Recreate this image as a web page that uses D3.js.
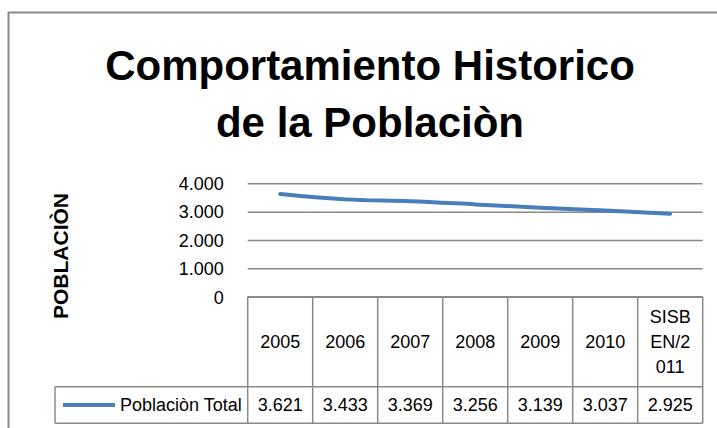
<!DOCTYPE html>
<html>
<head>
<meta charset="utf-8">
<script src="https://cdn.jsdelivr.net/npm/d3@7"></script>
<style>
  body { margin: 0; background: #fff; }
  text { font-family: "Liberation Sans", Arial, sans-serif; fill: #000; }
</style>
</head>
<body>
<script>
// data
var categories = ["2005", "2006", "2007", "2008", "2009", "2010", "SISBEN/2011"];
var catLines = [["2005"], ["2006"], ["2007"], ["2008"], ["2009"], ["2010"], ["SISB", "EN/2", "011"]];
var poblacion = [3621, 3433, 3369, 3256, 3139, 3037, 2925];
var yTicks = [0, 1000, 2000, 3000, 4000];
var seriesName = "Poblaciòn Total";

var w = 717, h = 428;
var plotLeft = 247.7, plotRight = 702.7, plotTop = 183.3, plotBottom = 296.7;
var headBottom = 386.7, legendBottom = 423.3, legendLeft = 55;
var gray = "#898989";
var fs = "18px";

var locale = d3.formatLocale({decimal: ",", thousands: ".", grouping: [3], currency: ["$", ""]});
var fmt = locale.format(",");

var svg = d3.select("body")
    .append("svg")
    .attr("width", w)
    .attr("height", h);

// chart border (runs off the page to the right / bottom)
svg.append("rect")
    .attr("x", 8.5)
    .attr("y", 12.5)
    .attr("width", 720)
    .attr("height", 430)
    .style("fill", "#fff")
    .style("stroke", gray)
    .style("stroke-width", 2);

// title
var title = svg.append("text")
    .attr("text-anchor", "middle")
    .style("font-weight", "bold")
    .style("font-size", "42px");
title.append("tspan").attr("x", 370).attr("y", 80).text("Comportamiento Historico");
title.append("tspan").attr("x", 370).attr("y", 137).text("de la Poblaciòn");

var x = d3.scaleBand()
    .domain(categories)
    .range([plotLeft, plotRight])
    .padding(0);

var y = d3.scaleLinear()
    .domain([0, 4000])
    .range([plotBottom, plotTop]);

// gridlines + tick labels
var yAxis = d3.axisLeft(y)
    .tickValues(yTicks)
    .tickSize(-(plotRight - plotLeft))
    .tickPadding(24)
    .tickFormat(fmt);

var axis = svg.append("g")
    .attr("transform", "translate(" + plotLeft + ",0)")
    .call(yAxis);
axis.select(".domain").remove();
axis.selectAll(".tick line")
    .style("stroke", gray)
    .style("stroke-width", 1.5);
axis.selectAll(".tick text")
    .attr("font-family", null)
    .attr("font-size", null)
    .style("font-size", fs)
    .attr("dy", "0.35em");

// y title
svg.append("text")
    .attr("transform", "translate(68,256) rotate(-90)")
    .attr("text-anchor", "middle")
    .style("font-weight", "bold")
    .style("font-size", "21px")
    .text("POBLACIÒN");

// data table
var table = svg.append("g");
var edges = categories.map(function(d){ return x(d); }).concat([plotRight]);

table.selectAll(".vline")
    .data(edges)
    .enter()
    .append("line")
    .attr("class", "vline")
    .attr("x1", function(d){ return d; })
    .attr("x2", function(d){ return d; })
    .attr("y1", plotBottom)
    .attr("y2", legendBottom);

table.append("line")
    .attr("x1", plotLeft).attr("x2", plotRight)
    .attr("y1", plotBottom).attr("y2", plotBottom);
table.selectAll(".hline")
    .data([headBottom, legendBottom])
    .enter()
    .append("line")
    .attr("class", "hline")
    .attr("x1", legendLeft).attr("x2", plotRight)
    .attr("y1", function(d){ return d; })
    .attr("y2", function(d){ return d; });
table.append("line")
    .attr("x1", legendLeft).attr("x2", legendLeft)
    .attr("y1", headBottom).attr("y2", legendBottom);

table.selectAll("line")
    .style("stroke", gray)
    .style("stroke-width", 1.5);

// category labels
var catText = table.selectAll(".cat")
    .data(categories)
    .enter()
    .append("text")
    .attr("class", "cat")
    .attr("text-anchor", "middle")
    .style("font-size", fs);

catText.each(function(d, i){
    var lines = catLines[i];
    var cy = (plotBottom + headBottom) / 2;
    var start = cy - (lines.length - 1) * 25 / 2;
    d3.select(this).selectAll("tspan")
        .data(lines)
        .enter()
        .append("tspan")
        .attr("x", x(d) + x.bandwidth() / 2)
        .attr("y", function(l, j){ return start + j * 25; })
        .attr("dy", "0.35em")
        .text(function(l){ return l; });
});

// values row
var rowY = (headBottom + legendBottom) / 2;
table.selectAll(".val")
    .data(poblacion)
    .enter()
    .append("text")
    .attr("class", "val")
    .attr("text-anchor", "middle")
    .attr("x", function(d, i){ return x(categories[i]) + x.bandwidth() / 2; })
    .attr("y", rowY)
    .attr("dy", "0.35em")
    .style("font-size", fs)
    .text(function(d){ return fmt(d); });

// legend key
table.append("line")
    .attr("x1", 63).attr("x2", 115)
    .attr("y1", rowY).attr("y2", rowY)
    .style("stroke", "#4a7ebb")
    .style("stroke-width", 4);
table.append("text")
    .attr("x", 120)
    .attr("y", rowY)
    .attr("dy", "0.35em")
    .style("font-size", fs)
    .text(seriesName);

// series line
var line = d3.line()
    .x(function(d, i){ return x(categories[i]) + x.bandwidth() / 2; })
    .y(function(d){ return y(d); })
    .curve(d3.curveMonotoneX);

svg.append("path")
    .datum(poblacion)
    .attr("d", line)
    .style("fill", "none")
    .style("stroke", "#4a7ebb")
    .style("stroke-width", 4)
    .style("stroke-linecap", "round");
</script>
</body>
</html>
